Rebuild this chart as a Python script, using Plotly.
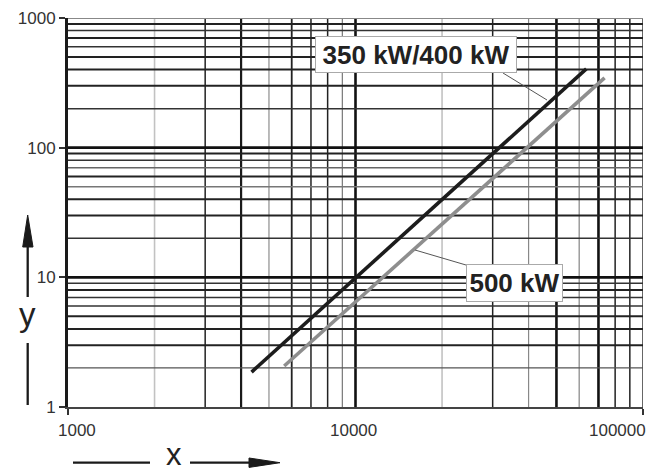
import plotly.graph_objects as go

# ---- data ----
series_names = ["350 kW/400 kW", "500 kW"]
black_x = [4350, 63500]
black_y = [1.86, 405]
gray_x = [5650, 73500]
gray_y = [2.07, 345]

y_tickvals = [1, 10, 100, 1000]
y_ticktext = ["1", "10", "100", "1000"]
x_tickvals = [1000, 10000, 100000]
x_ticktext = ["1000", "10000", "100000"]

xgrid_vals = [2000, 3000, 4000, 5000, 6000, 7000, 8000, 9000, 10000,
              20000, 30000, 40000, 50000, 60000, 70000, 80000, 90000, 100000]
ygrid_vals = [2, 3, 4, 5, 6, 7, 8, 9, 10,
              20, 30, 40, 50, 60, 70, 80, 90, 100,
              200, 300, 400, 500, 600, 700, 800, 900, 1000]

# ---- styles ----
xgrid_colors = ['#c2c2c2', '#222', '#1a1a1a', '#aaaaaa', '#222', '#222', '#222', '#777', '#111',
                '#c2c2c2', '#222', '#888', '#111', '#9c9c9c', '#111', '#222', '#222', '#333']
xgrid_widths = [1.6, 1.5, 2.2, 1.6, 1.8, 1.5, 1.5, 1.2, 2.6,
                1.6, 1.5, 1.2, 2.6, 1.5, 2.6, 1.5, 1.5, 1.5]
ygrid_colors = ['#555', '#222', '#222', '#222', '#333', '#333', '#222', '#333', '#111',
                '#333', '#222', '#222', '#777', '#222', '#666', '#333', '#222', '#111',
                '#333', '#222', '#222', '#222', '#333', '#222', '#333', '#222', '#888']
ygrid_widths = [1.3, 2.0, 2.0, 2.0, 1.5, 1.5, 2.0, 1.5, 2.6,
                1.5, 2.0, 2.0, 1.5, 2.0, 1.5, 1.5, 2.0, 2.6,
                1.5, 2.0, 2.0, 2.0, 1.5, 2.0, 1.5, 2.0, 2.2]

W, H = 662, 473
PL, PR, PT, PB = 68, 643, 18, 407   # plot area edges in pixels
L, R, T, B = PL, W - PR, PT, H - PB
PW, PH = PR - PL, PB - PT


def px(x):
    return (x - PL) / PW


def py(y):
    return (PB - y) / PH


FONT = "Liberation Sans, Arial, sans-serif"

fig = go.Figure()
fig.add_trace(go.Scatter(x=black_x, y=black_y, mode="lines", name=series_names[0],
                         line=dict(color="#1c1c1c", width=3.6), showlegend=False))
fig.add_trace(go.Scatter(x=gray_x, y=gray_y, mode="lines", name=series_names[1],
                         line=dict(color="#8e8e8e", width=3.6), showlegend=False))

shapes = []
for v, c, w in zip(xgrid_vals, xgrid_colors, xgrid_widths):
    shapes.append(dict(type="line", xref="x", yref="paper", x0=v, x1=v, y0=0, y1=1,
                       line=dict(color=c, width=w), layer="below"))
for v, c, w in zip(ygrid_vals, ygrid_colors, ygrid_widths):
    shapes.append(dict(type="line", xref="paper", yref="y", x0=0, x1=1, y0=v, y1=v,
                       line=dict(color=c, width=w), layer="below"))

# leader lines
shapes.append(dict(type="line", xref="paper", yref="paper", x0=px(503), y0=py(73),
                   x1=px(547), y1=py(100), line=dict(color="#555", width=1)))
shapes.append(dict(type="line", xref="paper", yref="paper", x0=px(466), y0=py(265),
                   x1=px(415), y1=py(250), line=dict(color="#555", width=1)))

# y-axis title arrows
shapes.append(dict(type="line", xref="paper", yref="paper", x0=px(27.7), x1=px(27.7),
                   y0=py(297), y1=py(244), line=dict(color="#1a1a1a", width=2.3)))
shapes.append(dict(type="line", xref="paper", yref="paper", x0=px(27.7), x1=px(27.7),
                   y0=py(343), y1=py(405), line=dict(color="#1a1a1a", width=2.3)))
shapes.append(dict(type="path", xref="paper", yref="paper",
                   path=f"M {px(22.7)} {py(247)} L {px(33)} {py(247)} L {px(27.7)} {py(215)} Z",
                   fillcolor="#1a1a1a", line=dict(color="#1a1a1a", width=1)))
# x-axis title arrows
shapes.append(dict(type="line", xref="paper", yref="paper", x0=px(73), x1=px(150),
                   y0=py(462.7), y1=py(462.7), line=dict(color="#1a1a1a", width=2.3)))
shapes.append(dict(type="line", xref="paper", yref="paper", x0=px(190), x1=px(252),
                   y0=py(462.7), y1=py(462.7), line=dict(color="#1a1a1a", width=2.3)))
shapes.append(dict(type="path", xref="paper", yref="paper",
                   path=f"M {px(249)} {py(458)} L {px(249)} {py(467.4)} L {px(280)} {py(462.7)} Z",
                   fillcolor="#1a1a1a", line=dict(color="#1a1a1a", width=1)))

annotations = []
# series labels
annotations.append(dict(xref="paper", yref="paper", x=px(416), y=py(54.5), text=f"<b>{series_names[0]}</b>",
                        showarrow=False, font=dict(family=FONT, size=26, color="#222"),
                        bgcolor="white", bordercolor="#aaaaaa", borderwidth=1, borderpad=1,
                        width=198, height=33, xanchor="center", yanchor="middle"))
annotations.append(dict(xref="paper", yref="paper", x=px(514.5), y=py(283), text=f"<b>{series_names[1]}</b>",
                        showarrow=False, font=dict(family=FONT, size=26, color="#222"),
                        bgcolor="white", bordercolor="#aaaaaa", borderwidth=1, borderpad=1,
                        width=93, height=34, xanchor="center", yanchor="middle"))
# x tick labels
x_label_centers = [77, 353, 617]
for t, cx in zip(x_ticktext, x_label_centers):
    annotations.append(dict(xref="paper", yref="paper", x=px(cx), y=py(430.7), text=t,
                            showarrow=False, font=dict(family=FONT, size=17, color="#333"),
                            xanchor="center", yanchor="middle"))
# axis titles
annotations.append(dict(xref="paper", yref="paper", x=px(27.5), y=py(314), text="y",
                        showarrow=False, font=dict(family=FONT, size=33, color="#222"),
                        xanchor="center", yanchor="middle"))
annotations.append(dict(xref="paper", yref="paper", x=px(174), y=py(454), text="x",
                        showarrow=False, font=dict(family=FONT, size=31, color="#222"),
                        xanchor="center", yanchor="middle"))

fig.update_layout(
    width=W, height=H,
    margin=dict(l=L, r=R, t=T, b=B, pad=0),
    paper_bgcolor="white", plot_bgcolor="white",
    shapes=shapes, annotations=annotations,
    font=dict(family=FONT, size=17, color="#333"),
)
fig.update_xaxes(type="log", range=[3, 5], showgrid=False, zeroline=False, automargin=False,
                 showline=True, linecolor="#444", linewidth=2,
                 tickvals=[x_tickvals[0], x_tickvals[-1]], ticks="outside", ticklen=6,
                 tickwidth=1.5, tickcolor="#333", showticklabels=False)
fig.update_yaxes(type="log", range=[0, 3], showgrid=False, zeroline=False, automargin=False,
                 showline=True, linecolor="#1a1a1a", linewidth=3,
                 tickvals=y_tickvals, ticktext=y_ticktext, ticks="outside", ticklen=6,
                 tickwidth=1.5, tickcolor="#333", tickfont=dict(family=FONT, size=17, color="#333"))

fig.write_html("out.html", config={"displayModeBar": False},
               post_script="document.body.style.margin='0';document.body.style.overflow='hidden';")
